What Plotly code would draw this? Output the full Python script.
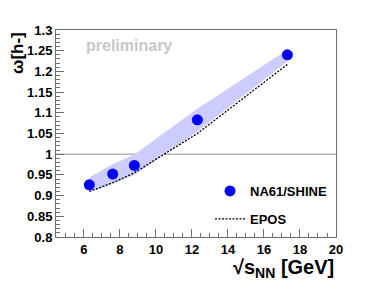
import plotly.graph_objects as go

# ---- data ----
sqrt_s = [6.3, 7.6, 8.8, 12.3, 17.3]
omega_na61 = [0.926, 0.952, 0.973, 1.083, 1.240]
band_low = [0.908, 0.928, 0.950, 1.055, 1.224]
band_high = [0.944, 0.976, 0.999, 1.110, 1.252]
epos = [0.910, 0.931, 0.955, 1.050, 1.217]

y_tickvals = [0.8, 0.85, 0.9, 0.95, 1.0, 1.05, 1.1, 1.15, 1.2, 1.25, 1.3]
y_ticktext = ["0.8", "0.85", "0.9", "0.95", "1", "1.05", "1.1", "1.15", "1.2", "1.25", "1.3"]
x_tickvals = [6, 8, 10, 12, 14, 16, 18, 20]

FONT = "Liberation Sans, Arial, Helvetica, sans-serif"
AXIS_COLOR = "#6e6e6e"

fig = go.Figure()

# systematic band
fig.add_trace(go.Scatter(
    x=sqrt_s + sqrt_s[::-1],
    y=band_high + band_low[::-1],
    fill="toself", fillcolor="#ccccff", mode="none",
    line=dict(width=0), showlegend=False, hoverinfo="skip",
))

# EPOS
fig.add_trace(go.Scatter(
    x=sqrt_s, y=epos, mode="lines", name="EPOS",
    line=dict(color="black", width=1.3, dash="2px,1.5px"),
    legendgroup="b", legendrank=2,
))

# NA61/SHINE points
fig.add_trace(go.Scatter(
    x=sqrt_s, y=omega_na61, mode="markers", name="NA61/SHINE",
    marker=dict(color="#0000ff", size=11, symbol="circle"),
    legendgroup="a", legendrank=1,
))

# reference line at 1
fig.add_shape(type="line", xref="x domain", yref="y", x0=0, x1=1, y0=1, y1=1,
              line=dict(color="#b4b4b4", width=1.5), layer="below")

fig.update_layout(
    width=374, height=296,
    margin=dict(l=56, r=38, t=30, b=59),
    paper_bgcolor="white", plot_bgcolor="white",
    font=dict(family=FONT, size=13, color="black", weight="bold"),
    legend=dict(
        x=0.55, y=0.295, xanchor="left", yanchor="top",
        bgcolor="rgba(0,0,0,0)", font=dict(size=13, weight="bold"),
        itemwidth=30, tracegroupgap=8, traceorder="grouped",
    ),
    xaxis=dict(
        range=[4.45, 20], tickvals=x_tickvals, ticks="inside", ticklen=8,
        tickcolor=AXIS_COLOR, showgrid=False, zeroline=False,
        showline=True, linecolor=AXIS_COLOR, linewidth=1, mirror=True,
        tickfont=dict(size=13, weight="bold"),
        minor=dict(ticks="inside", dtick=0.5, ticklen=4, tickcolor=AXIS_COLOR, showgrid=False),
    ),
    yaxis=dict(
        range=[0.8, 1.3], tickvals=y_tickvals, ticktext=y_ticktext,
        ticks="inside", ticklen=8, tickcolor=AXIS_COLOR,
        showgrid=False, zeroline=False,
        showline=True, linecolor=AXIS_COLOR, linewidth=1, mirror=True,
        tickfont=dict(size=13, weight="bold"),
        minor=dict(ticks="inside", dtick=0.01, ticklen=4, tickcolor=AXIS_COLOR, showgrid=False),
    ),
    annotations=[
        dict(text="ω[h-]", xref="paper", yref="paper", x=-0.135, y=0.89,
             textangle=-90, showarrow=False, xanchor="center", yanchor="middle",
             font=dict(size=17, weight="bold")),
        dict(text="√s<sub>NN</sub> [GeV]", xref="paper", yref="paper", x=1.0, y=-0.15,
             showarrow=False, xanchor="right", yanchor="middle",
             font=dict(size=20, weight="bold")),
        dict(text="preliminary", xref="paper", yref="paper", x=0.1, y=0.925,
             showarrow=False, xanchor="left", yanchor="middle",
             font=dict(size=16, weight="bold", color="#c8c8c8")),
    ],
)

fig.write_html("out.html", config={"displayModeBar": False},
               post_script="document.body.style.margin='0';")
